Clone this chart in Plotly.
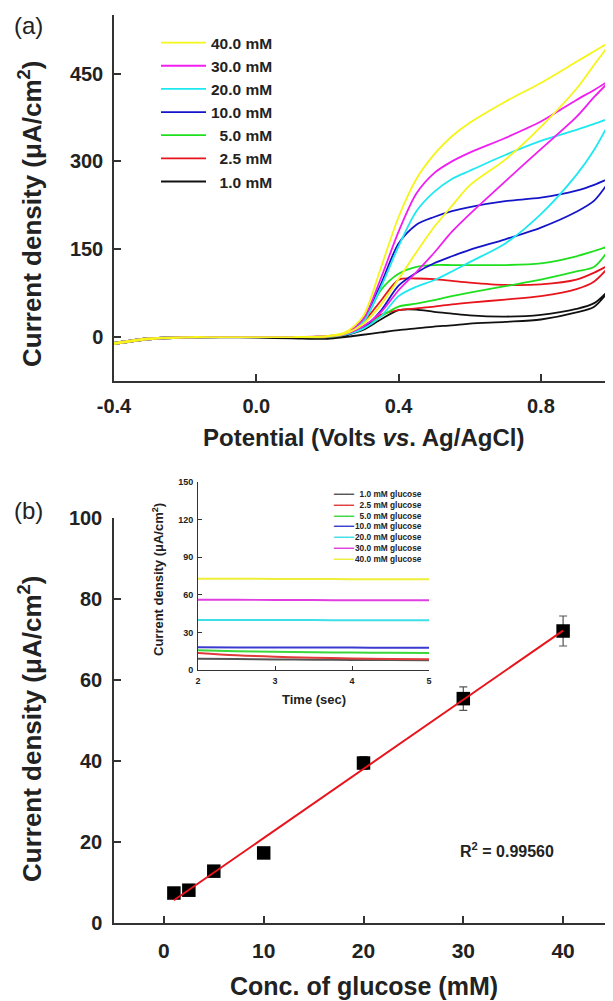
import numpy as np
import plotly.graph_objects as go

# page body has an 8px margin; the figure is sized to fill the rest of the window
OFF = 8
W, H = 613 - OFF, 1001 - OFF
FONT = "Liberation Sans, Arial, sans-serif"

# ---------------- Panel (a): cyclic voltammograms ----------------
potential_V = [-0.4, -0.3, -0.2, -0.1, 0.0, 0.1, 0.2, 0.25, 0.3, 0.35, 0.4, 0.45,
               0.5, 0.55, 0.6, 0.7, 0.8, 0.9, 0.95, 1.0]
cv_labels = ["\u20071.0 mM", "\u20072.5 mM", "\u20075.0 mM", "10.0 mM", "20.0 mM", "30.0 mM", "40.0 mM"]
cv_colors = ["#111111", "#e8141c", "#1fe01f", "#1414c8", "#1ee8f0", "#f01ef0", "#f5f51a"]

# forward (anodic) and reverse scans, sampled at potential_V (ascending)
fwd_1mM = [-10, -2, 0, 0, -1, -2, -2, 3, 12, 30, 46, 47, 43, 40, 37, 35, 38, 48, 58, 86]
rev_1mM = [-12, -4, -1, 0, -1, -2, -3, 0, 4, 8, 12, 15, 18, 20, 23, 26, 30, 42, 52, 86]
fwd_2_5mM = [-10, -2, 0, 0, 0, 0, 1, 4, 25, 62, 98, 100, 99, 96, 93, 89, 90, 98, 110, 126]
rev_2_5mM = [-12, -4, -1, 0, 0, 0, 0, 4, 18, 38, 46, 49, 52, 56, 59, 64, 70, 82, 95, 126]
fwd_5mM = [-10, -2, 0, 0, 0, 0, 1, 4, 25, 80, 108, 120, 123, 123, 123, 123, 126, 138, 147, 157]
rev_5mM = [-12, -4, -1, 0, 0, 0, 0, 4, 15, 35, 52, 57, 63, 70, 76, 87, 98, 112, 120, 157]
fwd_10mM = [-10, -2, 0, 0, 0, 0, 1, 5, 30, 90, 160, 192, 205, 215, 222, 232, 238, 250, 260, 273]
rev_10mM = [-12, -4, -1, 0, 0, 0, 1, 4, 15, 45, 88, 110, 126, 138, 149, 167, 187, 214, 233, 273]
fwd_20mM = [-10, -2, 0, 0, 0, 0, 1, 5, 25, 85, 155, 215, 248, 270, 284, 311, 335, 354, 364, 375]
rev_20mM = [-12, -4, -1, 0, 0, 0, 1, 4, 14, 35, 70, 86, 97, 112, 128, 160, 210, 277, 320, 375]
fwd_30mM = [-10, -2, 0, 0, 0, 0, 2, 6, 30, 100, 180, 245, 280, 300, 315, 340, 368, 405, 422, 441]
rev_30mM = [-12, -4, -1, 0, 0, 0, 1, 5, 18, 42, 80, 111, 144, 180, 210, 266, 321, 376, 410, 441]
fwd_40mM = [-10, -2, 0, 0, 0, 0, 2, 8, 35, 118, 205, 270, 312, 343, 366, 402, 434, 470, 488, 506]
rev_40mM = [-12, -4, -1, 0, 0, 0, 1, 6, 22, 55, 99, 145, 188, 224, 259, 303, 359, 424, 465, 506]

cv_fwd = [fwd_1mM, fwd_2_5mM, fwd_5mM, fwd_10mM, fwd_20mM, fwd_30mM, fwd_40mM]
cv_rev = [rev_1mM, rev_2_5mM, rev_5mM, rev_10mM, rev_20mM, rev_30mM, rev_40mM]

a_xticks = [-0.4, 0.0, 0.4, 0.8]
a_xticktext = ["-0.4", "0.0", "0.4", "0.8"]
a_yticks = [0, 150, 300, 450]

# ---------------- Panel (b): calibration ----------------
conc_mM = [1, 2.5, 5, 10, 20, 30, 40]
ss_current = [7.4, 8.1, 12.8, 17.3, 39.5, 55.4, 72.1]
ss_error = [0.5, 0.5, 0.6, 0.6, 1.6, 2.9, 3.7]
r2_text = "R<sup>2</sup> = 0.99560"

# inset: chronoamperometry
time_s = [2.0, 2.5, 3.0, 3.5, 4.0, 4.5, 5.0]
it_1mM = [9.0, 8.7, 8.4, 8.2, 8.0, 7.9, 7.8]
it_2_5mM = [13.6, 11.8, 10.6, 9.8, 9.2, 8.8, 8.5]
it_5mM = [15.8, 15.0, 14.5, 14.1, 13.9, 13.7, 13.6]
it_10mM = [18.1, 18.0, 18.0, 17.9, 17.9, 17.8, 17.8]
it_20mM = [39.9, 39.9, 39.8, 39.8, 39.7, 39.7, 39.6]
it_30mM = [56.1, 56.0, 55.9, 55.8, 55.7, 55.7, 55.6]
it_40mM = [72.9, 72.8, 72.7, 72.6, 72.5, 72.5, 72.4]
it_series = [it_1mM, it_2_5mM, it_5mM, it_10mM, it_20mM, it_30mM, it_40mM]
it_labels = ["1.0 mM glucose", "2.5 mM glucose", "5.0 mM glucose", "10.0 mM glucose",
             "20.0 mM glucose", "30.0 mM glucose", "40.0 mM glucose"]
it_colors = ["#555555", "#e03a3a", "#3ad83a", "#3a3ad0", "#3ee0e8", "#e03ee0", "#efef3a"]


def px(x):
    return (x - OFF) / W


def py(y):
    return 1 - (y - OFF) / H


fig = go.Figure()

# CV loops
for lab, col, f, r in zip(cv_labels, cv_colors, cv_fwd, cv_rev):
    fig.add_trace(go.Scatter(
        x=potential_V + potential_V[::-1], y=f + r[::-1], mode="lines", name=lab,
        line=dict(color=col, width=1.8, shape="spline", smoothing=0.8),
        xaxis="x", yaxis="y", legend="legend", cliponaxis=True))

# calibration
slope, icpt = np.polyfit(conc_mM, ss_current, 1)
fit_x = [conc_mM[0], conc_mM[-1]]
fit_y = [slope * v + icpt for v in fit_x]
fig.add_trace(go.Scatter(x=conc_mM, y=ss_current, mode="markers", showlegend=False,
                         marker=dict(symbol="square", size=13.5, color="black"),
                         error_y=dict(type="data", array=ss_error, color="#555555",
                                      thickness=1.2, width=4),
                         xaxis="x2", yaxis="y2"))
fig.add_trace(go.Scatter(x=fit_x, y=fit_y, mode="lines", showlegend=False,
                         line=dict(color="#e8141c", width=2), xaxis="x2", yaxis="y2"))

# inset
for lab, col, s in zip(it_labels, it_colors, it_series):
    fig.add_trace(go.Scatter(x=time_s, y=s, mode="lines", name=lab, showlegend=False,
                             line=dict(color=col, width=2, shape="spline"),
                             xaxis="x3", yaxis="y3"))

AX = "#333333"
common = dict(showline=True, linecolor=AX, linewidth=1.5, ticks="inside", tickcolor=AX,
              showgrid=False, zeroline=False, mirror=False, automargin=False)
big_tick = dict(family=FONT, size=20, color="#222", weight="bold")
small_tick = dict(family=FONT, size=9, color="#222", weight="bold")

fig.update_layout(
    template="none",
    width=W, height=H, autosize=False,
    margin=dict(l=0, r=0, t=0, b=0, pad=0),
    font=dict(family=FONT, color="#222"),
    paper_bgcolor="white", plot_bgcolor="rgba(0,0,0,0)",
    xaxis=dict(domain=[px(114), px(612)], range=[-0.4, 1.0], anchor="y",
               tickvals=a_xticks, ticktext=a_xticktext, ticklen=7, tickwidth=1.5,
               tickfont=big_tick, ticklabelstandoff=6, **common),
    yaxis=dict(domain=[py(381), py(15)], range=[-75, 550], anchor="x",
               tickvals=a_yticks, ticklen=7, tickwidth=1.5,
               tickfont=big_tick, ticklabelstandoff=5, **common),
    xaxis2=dict(domain=[px(114), 1.0], range=[-5, 45], anchor="y2",
                tickvals=[0, 10, 20, 30, 40], ticklen=7, tickwidth=1.5,
                tickfont=dict(family=FONT, size=21, color="#222", weight="bold"),
                ticklabelstandoff=8, **common),
    yaxis2=dict(domain=[py(923), py(518)], range=[0, 100], anchor="x2",
                tickvals=[0, 20, 40, 60, 80, 100], ticklen=7, tickwidth=1.5,
                tickfont=big_tick, ticklabelstandoff=6, **common),
    xaxis3=dict(domain=[px(198), px(429)], range=[2, 5], anchor="y3",
                tickvals=[2, 3, 4, 5], ticklen=4, tickwidth=1,
                tickfont=small_tick, ticklabelstandoff=2,
                **{**common, "linewidth": 1}),
    yaxis3=dict(domain=[py(670), py(482)], range=[0, 150], anchor="x3",
                tickvals=[0, 30, 60, 90, 120, 150], ticklen=4, tickwidth=1,
                tickfont=small_tick, ticklabelstandoff=2,
                **{**common, "linewidth": 1}),
    legend=dict(x=px(156), y=py(26), xanchor="left", yanchor="top",
                traceorder="reversed", bgcolor="rgba(0,0,0,0)", itemwidth=45,
                font=dict(family=FONT, size=15.5, color="#222", weight="bold"),
                tracegroupgap=0),
    showlegend=True,
)

ann = []
title_font = dict(family=FONT, size=26, color="#222", weight="bold")
ann.append(dict(text="Current density (\u03bcA/cm<sup>2</sup>)", x=px(30), y=py(214),
                textangle=-90, font=title_font))
ann.append(dict(text="Potential (Volts <i>vs</i>. Ag/AgCl)", x=px(363), y=py(437),
                font=dict(family=FONT, size=24, color="#222", weight="bold")))
ann.append(dict(text="Current density (\u03bcA/cm<sup>2</sup>)", x=px(30), y=py(729),
                textangle=-90, font=title_font))
ann.append(dict(text="Conc. of glucose (mM)", x=px(364), y=py(986),
                font=dict(family=FONT, size=25, color="#222", weight="bold")))
ann.append(dict(text=r2_text, x=px(507), y=py(850),
                font=dict(family=FONT, size=16, color="#222", weight="bold")))
ann.append(dict(text="(a)", x=px(28), y=py(26),
                font=dict(family=FONT, size=24, color="#222")))
ann.append(dict(text="(b)", x=px(28), y=py(511),
                font=dict(family=FONT, size=24, color="#222")))
ann.append(dict(text="Current density (\u03bcA/cm<sup>2</sup>)", x=px(158), y=py(580),
                textangle=-90, font=dict(family=FONT, size=13, color="#222", weight="bold")))
ann.append(dict(text="Time (sec)", x=px(314), y=py(699),
                font=dict(family=FONT, size=13, color="#222", weight="bold")))
# inset legend (labels right-aligned, colour keys in a column)
ann.append(dict(text="<br>".join(it_labels), x=px(424), y=py(526), xanchor="right",
                align="right", font=dict(family=FONT, size=8.3, color="#222", weight="bold")))
ann.append(dict(text="<br>".join(f"<span style='color:{c}'>\u2501\u2501\u2501\u2501</span>"
                                 for c in it_colors),
                x=px(331), y=py(526), xanchor="left", align="left",
                font=dict(family="DejaVu Sans", size=8.3, color="#222")))
for a in ann:
    a.setdefault("xref", "paper")
    a.setdefault("yref", "paper")
    a.setdefault("showarrow", False)
    a.setdefault("xanchor", "center")
    a.setdefault("yanchor", "middle")
fig.update_layout(annotations=ann)

fig.write_html("out.html")
